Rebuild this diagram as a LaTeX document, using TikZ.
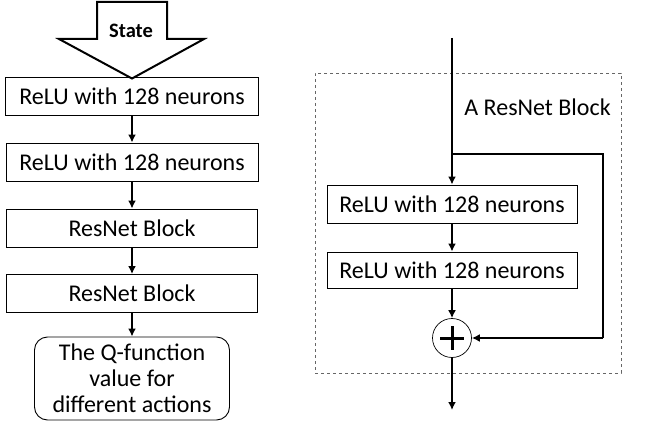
\documentclass[tikz,border=0pt]{standalone}
\usepackage{fontspec}
\setmainfont{Carlito}
\usetikzlibrary{arrows.meta}
\begin{document}
\begin{tikzpicture}[x=1pt,y=-1pt,
  box/.style={draw,line width=0.9pt,inner sep=0pt,font=\fontsize{24}{25.5}\selectfont,minimum height=38pt},
  conn/.style={line width=2.2pt,-{Latex[length=8pt,width=8pt]}},
  ]
\useasboundingbox (0,0) rectangle (649,436);
% State arrow
\draw[line width=2pt,line join=miter] (97,2) -- (167,2) -- (167,39) -- (204,39) -- (132,78.5) -- (59,39) -- (97,39) -- cycle;
\node[font=\fontsize{20.5}{22}\selectfont\bfseries] (state) at (131,30.5) {State};
% left column
\node[box,minimum width=253pt] (b1) at (132,96.5) {ReLU with 128 neurons};
\node[box,minimum width=252pt] (b2) at (132,162) {ReLU with 128 neurons};
\node[box,minimum width=251pt] (b3) at (132,228) {ResNet Block};
\node[box,minimum width=251pt] (b4) at (132,293.5) {ResNet Block};
\node[draw,line width=0.9pt,rounded corners=13pt,minimum width=195pt,minimum height=83pt,inner sep=0pt,align=center,font=\fontsize{24}{26}\selectfont] (q) at (132,378.5) {\raisebox{-3pt}{\parbox{190pt}{\centering The Q-function\\value for\\different actions}}};
\draw[conn] (b1) -- (b2);
\draw[conn] (b2) -- (b3);
\draw[conn] (b3) -- (b4);
\draw[conn] (b4) -- (q);
% right: ResNet block
\node[draw=black!60,dashed,line width=0.7pt,minimum width=306pt,minimum height=300pt,inner sep=0pt] (frame) at (468,223) {};
\node[font=\fontsize{24}{26}\selectfont] (lbl) at (537.5,107) {A ResNet Block};
\coordinate (top) at (452,38);
\coordinate (split) at (452,154);
\coordinate (c1) at (603,154);
\coordinate (c2) at (603,338);
\node[box,minimum width=250pt] (r1) at (452,204) {ReLU with 128 neurons};
\node[box,minimum width=250pt,minimum height=36pt] (r2) at (452,270) {ReLU with 128 neurons};
\node[draw,circle,line width=0.7pt,minimum size=39pt,inner sep=0pt] (plus) at (452,338) {};
\draw[line width=3pt] (plus.center) ++(-12,0) -- ++(24,0);
\draw[line width=3pt] (plus.center) ++(0,-12) -- ++(0,24);
\coordinate (out) at (452,410);
\draw[conn] (top) -- (r1);
\draw[line width=2.2pt,line join=miter] (split) -- (c1) -- (c2);
\draw[conn] (c2) -- (plus.east);
\draw[conn] (r1) -- (r2);
\draw[conn] (r2) -- (plus);
\draw[conn] (plus) -- (out);
\end{tikzpicture}
\end{document}
